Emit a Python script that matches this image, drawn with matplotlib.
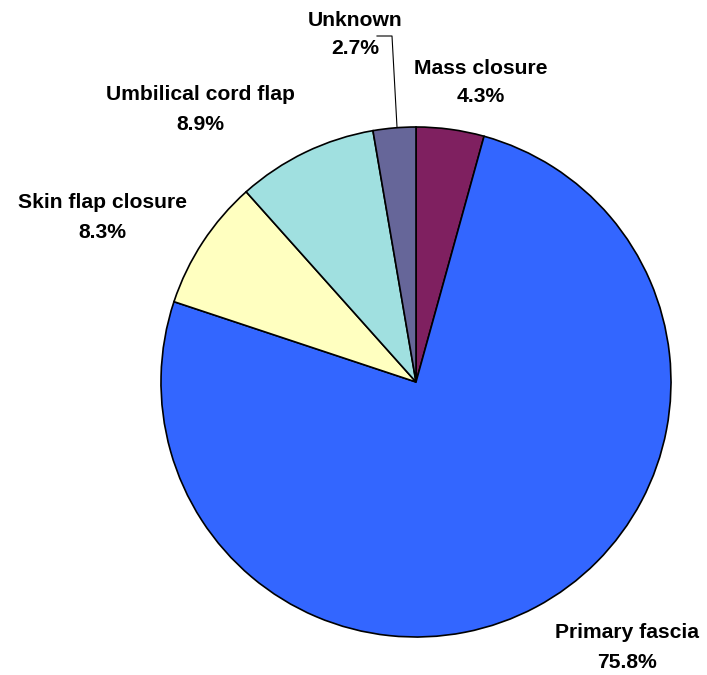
import matplotlib
matplotlib.use("Agg")
import matplotlib.pyplot as plt

# closure method shares, clockwise from 12 o'clock
labels = ["Mass closure", "Primary fascia", "Skin flap closure",
          "Umbilical cord flap", "Unknown"]
shares = [4.3, 75.8, 8.3, 8.9, 2.7]
colors = ["#7F2060", "#3366FF", "#FFFFC0", "#A0E0E0", "#666699"]

# label anchors (x, y from top) in pixel units
label_pos = [(481, 68), (627, 633), (102, 203), (200, 95), (355, 20)]

W, H = 707, 675
fig = plt.figure(figsize=(W / 100, H / 100), dpi=100)
ax = fig.add_axes([0, 0, 1, 1])

cx, cy, r = 416, H - 382, 255
ax.pie(shares, colors=colors, startangle=90, counterclock=False,
       center=(cx, cy), radius=r, frame=True,
       wedgeprops=dict(edgecolor="black", linewidth=1.2))
ax.set_xlim(0, W)
ax.set_ylim(0, H)
ax.set_aspect("equal")
ax.axis("off")

font = dict(family=["Liberation Sans", "DejaVu Sans"], fontsize=15.2,
            fontweight="bold", ha="center", va="center")
for name, val, (x, y) in zip(labels, shares, label_pos):
    ax.text(x, H - y, name, **font)
    ax.text(x, H - y - 29, f"{val}%", **font)

# leader line for the thin "Unknown" slice
ax.plot([377, 392, 397], [H - 36, H - 36, H - 127], color="black", lw=0.8)

fig.savefig("out.png", dpi=100, facecolor="white")
